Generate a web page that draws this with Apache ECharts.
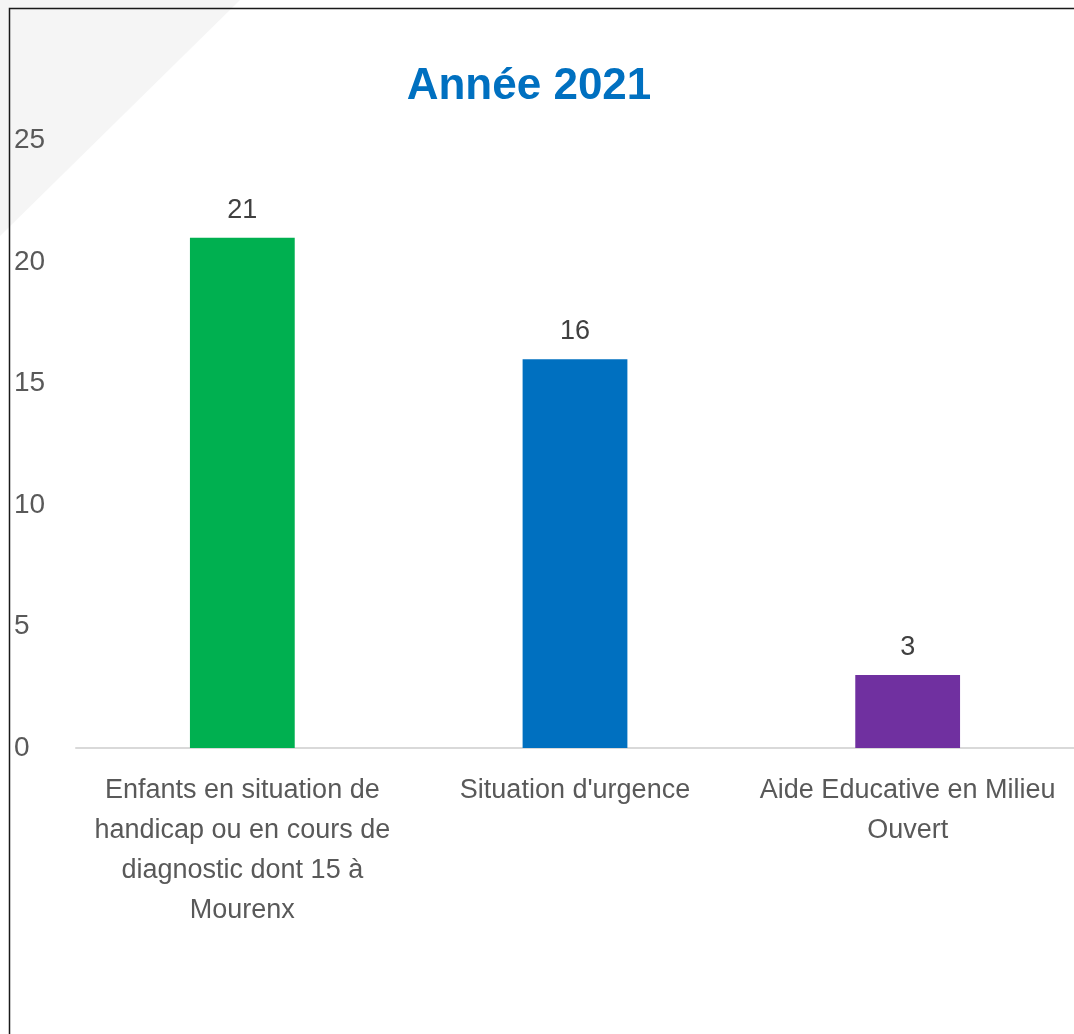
<!DOCTYPE html>
<html>
<head>
<meta charset="utf-8">
<script src="https://cdn.jsdelivr.net/npm/echarts@6/dist/echarts.min.js"></script>
<style>html,body{margin:0;padding:0;background:#fff;}#c{width:1074px;height:1034px;}</style>
</head>
<body>
<div id="c"></div>
<script>
const titleText = 'Année 2021';
const categories = [
  'Enfants en situation de\nhandicap ou en cours de\ndiagnostic dont 15 à\nMourenx',
  "Situation d'urgence",
  'Aide Educative en Milieu\nOuvert'
];
const values = [21, 16, 3];
const barColors = ['#00b050', '#0070c0', '#7030a0'];
const yTicks = [0, 5, 10, 15, 20, 25];

const chart = echarts.init(document.getElementById('c'));
const FONT = '"Liberation Sans", Arial, sans-serif';
chart.setOption({
  backgroundColor: '#ffffff',
  animation: false,
  graphic: [
    { type: 'polygon', z: 0, shape: { points: [[0,0],[240,0],[0,236]] }, style: { fill: '#f5f5f5' } },
    { type: 'rect', z: 1, shape: { x: 9.5, y: 8.5, width: 1200, height: 1200 }, style: { fill: 'none', stroke: '#1a1a1a', lineWidth: 1.5 } }
  ],
  title: {
    text: titleText,
    left: 524,
    top: 60,
    textAlign: 'center',
    textStyle: { fontFamily: FONT, fontWeight: 'bold', fontSize: 44, color: '#0070c0' }
  },
  grid: { left: 76, right: 0, top: 140.5, bottom: 286, containLabel: false },
  xAxis: {
    type: 'category',
    data: categories,
    axisLine: { show: true, lineStyle: { color: '#d9d9d9', width: 2 } },
    axisTick: { show: false },
    axisLabel: { interval: 0, margin: 23, fontFamily: FONT, fontSize: 27, lineHeight: 40, color: '#595959', align: 'center' }
  },
  yAxis: {
    type: 'value',
    min: yTicks[0],
    max: yTicks[yTicks.length - 1],
    interval: 5,
    splitLine: { show: false },
    axisLine: { show: false },
    axisTick: { show: false },
    axisLabel: { margin: 62, align: 'left', fontFamily: FONT, fontSize: 28, color: '#595959', padding: [4, 0, 0, 0] }
  },
  series: [{
    type: 'bar',
    barWidth: '31.5%',
    data: values.map((v, i) => ({ value: v, itemStyle: { color: barColors[i] } })),
    label: { show: true, position: 'top', distance: 14, fontFamily: FONT, fontSize: 27, color: '#404040' }
  }]
});
</script>
</body>
</html>
